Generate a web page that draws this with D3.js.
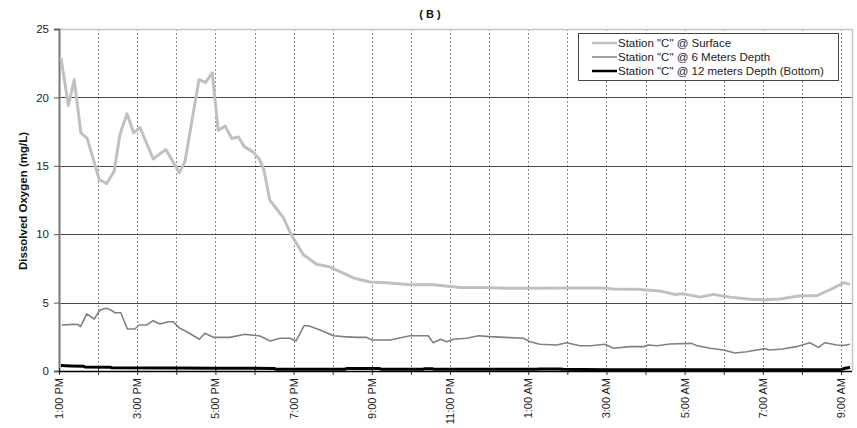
<!DOCTYPE html>
<html>
<head>
<meta charset="utf-8">
<script src="https://cdn.jsdelivr.net/npm/d3@7"></script>
<style>
  html, body { margin: 0; padding: 0; background: #fff; }
  svg { display: block; font-family: "Liberation Sans", Arial, sans-serif; }
</style>
</head>
<body>
<svg id="chart" width="857" height="428"></svg>
<script>
// ---- Data (hours after 1:00 PM, dissolved oxygen mg/L) ----
const surfaceHours = [0.05,0.24,0.39,0.56,0.72,1.03,1.22,1.41,1.56,1.74,1.91,2.07,2.41,2.73,3.08,3.22,3.58,3.75,3.92,4.07,4.25,4.42,4.59,4.74,4.97,5.12,5.24,5.39,5.74,5.95,6.25,6.59,6.93,7.53,7.95,8.38,8.98,9.57,10.26,10.94,11.45,12.13,12.98,13.84,14.18,14.77,15.37,15.75,15.95,16.4,16.73,17.16,17.67,18.01,18.44,18.95,19.38,19.8,20.06,20.23];
const surfaceValues = [22.9,19.4,21.3,17.4,17.0,14.0,13.7,14.6,17.3,18.8,17.4,17.8,15.5,16.2,14.5,15.3,21.3,21.1,21.8,17.6,17.9,17.0,17.1,16.4,16.0,15.5,14.7,12.5,11.2,9.9,8.5,7.8,7.6,6.8,6.5,6.45,6.3,6.3,6.1,6.1,6.05,6.05,6.07,6.07,6.0,5.97,5.85,5.6,5.65,5.4,5.6,5.4,5.25,5.2,5.26,5.5,5.5,6.05,6.45,6.35];

const mid6Hours = [0.07,0.37,0.48,0.55,0.71,0.9,1.05,1.2,1.3,1.43,1.58,1.75,1.94,2.05,2.24,2.41,2.58,2.8,2.92,3.09,3.27,3.59,3.73,3.95,4.37,4.76,5.14,5.4,5.65,5.91,6.06,6.27,6.38,6.68,7.02,7.27,7.61,7.87,8.0,8.47,8.98,9.44,9.57,9.76,9.92,10.08,10.43,10.72,11.02,11.53,11.87,12.05,12.3,12.73,12.98,13.32,13.6,13.96,14.18,14.6,14.94,15.07,15.3,15.62,16.18,16.3,16.65,16.99,17.29,17.59,17.84,18.06,18.18,18.5,18.86,19.2,19.42,19.59,19.89,20.06,20.23];
const mid6Values = [3.36,3.41,3.4,3.24,4.17,3.8,4.46,4.58,4.5,4.26,4.26,3.07,3.07,3.36,3.36,3.68,3.44,3.6,3.6,3.12,2.87,2.32,2.76,2.46,2.46,2.68,2.56,2.19,2.39,2.39,2.19,3.31,3.31,3.0,2.58,2.51,2.46,2.46,2.27,2.27,2.58,2.58,2.07,2.32,2.14,2.32,2.39,2.58,2.51,2.44,2.39,2.14,1.95,1.9,2.07,1.85,1.85,1.95,1.66,1.78,1.78,1.9,1.85,1.97,2.02,1.87,1.66,1.54,1.32,1.41,1.54,1.63,1.54,1.61,1.78,2.07,1.73,2.07,1.9,1.87,1.95];

const bottomHours = [0.05,0.3,0.62,0.66,1.3,1.35,3.0,4.0,5.5,5.55,7.3,7.35,8.2,8.25,9.3,9.35,9.55,9.6,12.2,12.3,12.8,12.9,14.0,20.0,20.1,20.23];
const bottomValues = [0.4,0.37,0.35,0.3,0.28,0.24,0.22,0.2,0.19,0.12,0.12,0.18,0.18,0.12,0.12,0.16,0.16,0.12,0.12,0.15,0.15,0.12,0.1,0.1,0.2,0.25];

const seriesNames = ['Station "C" @ Surface', 'Station "C" @ 6 Meters Depth', 'Station "C" @ 12 meters Depth (Bottom)'];
const seriesColors = ["#c0c0c0", "#808080", "#000000"];
const seriesWidths = [3, 1.6, 3];

const xTickHours = d3.range(0, 21, 1);
const xLabelHours = [0,2,4,6,8,10,12,14,16,18,20];
const xLabels = ["1:00 PM","3:00 PM","5:00 PM","7:00 PM","9:00 PM","11:00 PM","1:00 AM","3:00 AM","5:00 AM","7:00 AM","9:00 AM"];
const yTicks = [0,5,10,15,20,25];

const chartTitle = "( B )";
const yTitle = "Dissolved Oxygen (mg/L)";

// ---- Layout ----
const svg = d3.select("#chart");
const pLeft = 59, pRight = 852, pTop = 29, pBottom = 371;

const x = d3.scaleLinear().domain([0, 20.28]).range([pLeft, pRight]);
const y = d3.scaleLinear().domain([0, 25]).range([pBottom, pTop]);

// vertical dotted gridlines
svg.append("g").selectAll("line").data(xTickHours.slice(1)).join("line")
  .attr("x1", d => Math.round(x(d)) + 0.5).attr("x2", d => Math.round(x(d)) + 0.5)
  .attr("y1", pTop).attr("y2", pBottom)
  .attr("stroke", "#8a8a8a").attr("stroke-width", 1).attr("stroke-dasharray", "2,2");

// horizontal gridlines
svg.append("g").selectAll("line").data(yTicks.filter(d => d > 0 && d < 25)).join("line")
  .attr("x1", pLeft).attr("x2", pRight)
  .attr("y1", d => Math.round(y(d)) + 0.5).attr("y2", d => Math.round(y(d)) + 0.5)
  .attr("stroke", "#4a4a4a").attr("stroke-width", 1);

// top & right border
svg.append("line").attr("x1", pLeft).attr("x2", pRight).attr("y1", pTop + 0.5).attr("y2", pTop + 0.5)
  .attr("stroke", "#c4c4c4").attr("stroke-width", 1.5);
svg.append("line").attr("x1", pRight + 0.5).attr("x2", pRight + 0.5).attr("y1", pTop).attr("y2", pBottom)
  .attr("stroke", "#c4c4c4").attr("stroke-width", 1.5);

// Y axis
const yAxis = d3.axisLeft(y).tickValues(yTicks).tickSize(5).tickPadding(5);
const gy = svg.append("g").attr("transform", `translate(${pLeft},0)`).call(yAxis);
gy.select(".domain").attr("stroke", "#777").attr("stroke-width", 2);
gy.selectAll(".tick line").attr("stroke", "#555");
gy.selectAll("text").attr("font-size", "11.5px").attr("fill", "#222")
  .attr("font-family", "Liberation Sans, Arial, sans-serif");

// X axis ticks (crossing)
const xAxis = d3.axisBottom(x).tickValues(xTickHours).tickSize(4).tickFormat("");
const gx = svg.append("g").attr("transform", `translate(0,${pBottom})`).call(xAxis);
gx.select(".domain").remove();
gx.selectAll(".tick line").attr("y1", -3).attr("y2", 4).attr("stroke", "#333");
svg.append("line").attr("x1", pLeft).attr("x2", pRight).attr("y1", pBottom + 0.5).attr("y2", pBottom + 0.5)
  .attr("stroke", "#000").attr("stroke-width", 1.5);

// X labels (rotated)
svg.append("g").selectAll("text").data(xLabelHours).join("text")
  .attr("transform", d => `translate(${x(d)},378) rotate(-90)`)
  .attr("text-anchor", "end").attr("dy", "0.36em")
  .attr("font-size", "11px").attr("fill", "#222")
  .text((d, i) => xLabels[i]);

// lines
const lineGen = d3.line().x(d => x(d[0])).y(d => y(d[1]));
const seriesData = [
  d3.zip(surfaceHours, surfaceValues),
  d3.zip(mid6Hours, mid6Values),
  d3.zip(bottomHours, bottomValues)
];
svg.append("g").selectAll("path").data(seriesData).join("path")
  .attr("d", lineGen)
  .attr("fill", "none")
  .attr("stroke", (d, i) => seriesColors[i])
  .attr("stroke-width", (d, i) => seriesWidths[i])
  .attr("stroke-linejoin", "round");

// title
svg.append("text").attr("x", 430).attr("y", 18).attr("text-anchor", "middle")
  .attr("font-size", "11px").attr("font-weight", "bold").attr("fill", "#111")
  .text(chartTitle);

// y title
svg.append("text").attr("transform", "translate(27,201) rotate(-90)")
  .attr("text-anchor", "middle").attr("font-size", "11.5px").attr("font-weight", "bold").attr("fill", "#111")
  .text(yTitle);

// legend
const lg = svg.append("g");
lg.append("rect").attr("x", 578.5).attr("y", 33.5).attr("width", 260).attr("height", 47)
  .attr("fill", "#fff").attr("stroke", "#444").attr("stroke-width", 1);
const rowsY = [43, 57, 71];
seriesNames.forEach((name, i) => {
  lg.append("line").attr("x1", 592).attr("x2", 617).attr("y1", rowsY[i]).attr("y2", rowsY[i])
    .attr("stroke", seriesColors[i]).attr("stroke-width", seriesWidths[i] === 3 ? 2.5 : 1.5);
  lg.append("text").attr("x", 618).attr("y", rowsY[i]).attr("dy", "0.36em")
    .attr("font-size", "11.5px").attr("fill", "#222").text(name);
});
</script>
</body>
</html>
